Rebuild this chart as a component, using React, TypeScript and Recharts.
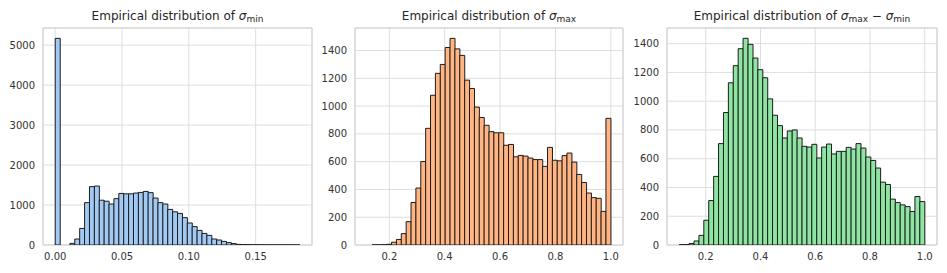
import React from 'react';
import { BarChart, Bar, XAxis, YAxis, CartesianGrid, ReferenceArea } from 'recharts';

// histogram ranges (first bin edge, last bin edge) and counts per bin (50 bins each)
const MIN_RANGE = [0, 0.183];
const MIN_COUNTS = [
  5170, 0, 0, 40, 150, 415, 1060, 1460, 1475, 1120,
  1095, 1025, 1160, 1290, 1280, 1280, 1300, 1315, 1340, 1310,
  1175, 1060, 1025, 890, 830, 790, 685, 550, 460, 365,
  290, 240, 150, 125, 90, 60, 35, 15, 10, 8,
  6, 5, 4, 3, 3, 2, 2, 1, 1, 1,
];

const MAX_RANGE = [0.12, 1.0];
const MAX_COUNTS = [
  0, 1, 1, 2, 5, 20, 40, 82, 168, 306,
  410, 601, 840, 1078, 1236, 1300, 1422, 1488, 1412, 1365,
  1187, 1127, 993, 918, 862, 816, 808, 808, 718, 724,
  635, 645, 640, 626, 615, 615, 566, 703, 610, 606,
  644, 662, 597, 508, 450, 374, 341, 336, 242, 912,
];

const DIFF_RANGE = [0.1034, 1.0];
const DIFF_COUNTS = [
  2, 3, 10, 28, 67, 172, 309, 477, 705, 921,
  1128, 1247, 1365, 1437, 1395, 1300, 1219, 1163, 1016, 902,
  830, 744, 793, 800, 744, 686, 681, 700, 605, 681,
  702, 633, 651, 651, 679, 667, 705, 674, 612, 588,
  535, 437, 421, 319, 295, 279, 267, 233, 337, 302,
];

const MIN_X_TICKS = [0, 0.05, 0.1, 0.15];
const MIN_Y_TICKS = [0, 1000, 2000, 3000, 4000, 5000];
const X_TICKS = [0.2, 0.4, 0.6, 0.8, 1.0];
const Y_TICKS = [0, 200, 400, 600, 800, 1000, 1200, 1400];

const BLUE = '#a1c9f4';
const ORANGE = '#ffb482';
const GREEN = '#8de5a1';

const FONT = "'DejaVu Sans', sans-serif";
const H = 273;
const PLOT_TOP = 28;
const PLOT_BOTTOM = 245;

type PanelProps = {
  counts: number[];
  range: number[];
  xTicks: number[];
  yTicks: number[];
  digits: number;
  color: string;
  left: number;
  width: number;
  plotLeft: number;
  plotRight: number;
  title: React.ReactNode;
};

const Panel = ({ counts, range, xTicks, yTicks, digits, color, left, width, plotLeft, plotRight, title }: PanelProps) => {
  const [lo, hi] = range;
  const step = (hi - lo) / counts.length;
  const data = counts.map((c, i) => ({ x: lo + step * (i + 0.5), count: c }));
  const pad = (hi - lo) * 0.05;
  const xDomain = [lo - pad, hi + pad];
  const yTop = Math.max(...counts) * 1.05;
  const yAxisW = 40;

  return (
    <>
      <div
        style={{
          position: 'absolute',
          left: plotLeft,
          width: plotRight - plotLeft,
          top: 9,
          textAlign: 'center',
          fontFamily: FONT,
          fontSize: 12,
          lineHeight: '14px',
          color: '#262626',
          whiteSpace: 'nowrap',
        }}
      >
        {title}
      </div>
      <div style={{ position: 'absolute', left, top: 0 }}>
        <BarChart
          width={width}
          height={H}
          data={data}
          barCategoryGap={0}
          barGap={0}
          margin={{ top: PLOT_TOP, bottom: H - PLOT_BOTTOM - 20, left: plotLeft - left - yAxisW, right: left + width - plotRight }}
        >
          <CartesianGrid stroke="#dedede" strokeWidth={1} />
          <XAxis
            type="number"
            dataKey="x"
            domain={xDomain}
            ticks={xTicks}
            interval={0}
            allowDataOverflow
            tickLine={false}
            axisLine={false}
            height={20}
            tickFormatter={(v: number) => v.toFixed(digits)}
            tick={{ fill: '#333', fontSize: 10, fontFamily: FONT }}
          />
          <YAxis
            type="number"
            domain={[0, yTop]}
            ticks={yTicks}
            interval={0}
            allowDataOverflow
            tickLine={false}
            axisLine={false}
            width={yAxisW}
            tick={{ fill: '#333', fontSize: 10, fontFamily: FONT }}
          />
          <Bar dataKey="count" fill={color} stroke="#1c1c1c" strokeWidth={1} isAnimationActive={false} />
          <ReferenceArea x1={xDomain[0]} x2={xDomain[1]} y1={0} y2={yTop} fill="none" stroke="#d0d0d0" strokeWidth={1} fillOpacity={0} />
        </BarChart>
      </div>
    </>
  );
};

const sub = (t: string) => (
  <sub style={{ fontSize: 9, verticalAlign: '-2px', lineHeight: 0 }}>{t}</sub>
);

export default function App() {
  return (
    <div style={{ position: 'absolute', left: 0, top: 0, width: 947, height: H, background: '#fff' }}>
      <Panel
        counts={MIN_COUNTS}
        range={MIN_RANGE}
        xTicks={MIN_X_TICKS}
        yTicks={MIN_Y_TICKS}
        digits={2}
        color={BLUE}
        left={0}
        width={320}
        plotLeft={43}
        plotRight={312}
        title={<>Empirical distribution of <i>σ</i>{sub('min')}</>}
      />
      <Panel
        counts={MAX_COUNTS}
        range={MAX_RANGE}
        xTicks={X_TICKS}
        yTicks={Y_TICKS}
        digits={1}
        color={ORANGE}
        left={315}
        width={316}
        plotLeft={355}
        plotRight={623}
        title={<>Empirical distribution of <i>σ</i>{sub('max')}</>}
      />
      <Panel
        counts={DIFF_COUNTS}
        range={DIFF_RANGE}
        xTicks={X_TICKS}
        yTicks={Y_TICKS}
        digits={1}
        color={GREEN}
        left={627}
        width={320}
        plotLeft={667}
        plotRight={937}
        title={<>Empirical distribution of <i>σ</i>{sub('max')} − <i>σ</i>{sub('min')}</>}
      />
    </div>
  );
}
